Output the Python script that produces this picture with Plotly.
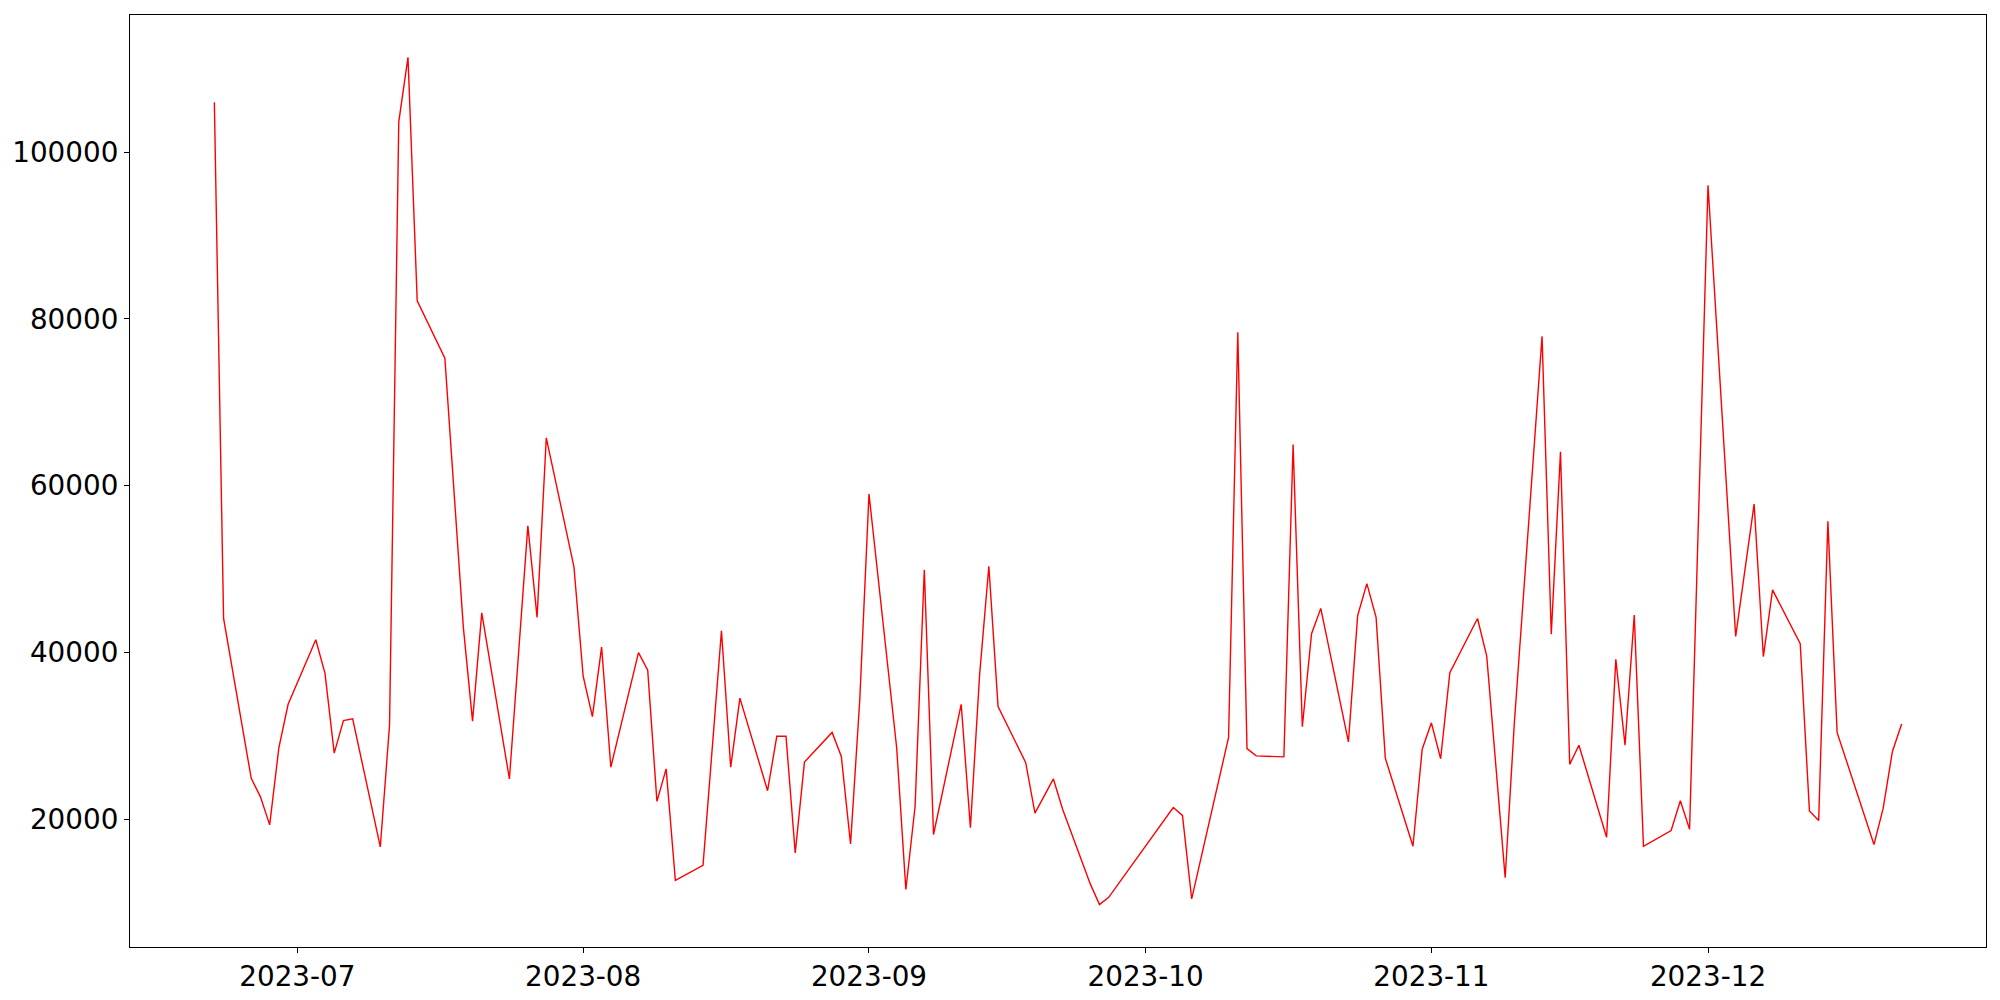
import pandas as pd
import plotly.graph_objects as go

dates = [
    "2023-06-22", "2023-06-23", "2023-06-26", "2023-06-27", "2023-06-28", "2023-06-29", "2023-06-30",
    "2023-07-03", "2023-07-04", "2023-07-05", "2023-07-06", "2023-07-07",
    "2023-07-10", "2023-07-11", "2023-07-12", "2023-07-13", "2023-07-14",
    "2023-07-17", "2023-07-19", "2023-07-20", "2023-07-21",
    "2023-07-24", "2023-07-26", "2023-07-27", "2023-07-28",
    "2023-07-31", "2023-08-01", "2023-08-02", "2023-08-03", "2023-08-04",
    "2023-08-07", "2023-08-08", "2023-08-09", "2023-08-10", "2023-08-11",
    "2023-08-14", "2023-08-16", "2023-08-17", "2023-08-18",
    "2023-08-21", "2023-08-22", "2023-08-23", "2023-08-24", "2023-08-25",
    "2023-08-28", "2023-08-29", "2023-08-30", "2023-08-31", "2023-09-01",
    "2023-09-04", "2023-09-05", "2023-09-06", "2023-09-07", "2023-09-08",
    "2023-09-11", "2023-09-12", "2023-09-13", "2023-09-14", "2023-09-15",
    "2023-09-18", "2023-09-19", "2023-09-21", "2023-09-22",
    "2023-09-25", "2023-09-26", "2023-09-27",
    "2023-10-04", "2023-10-05", "2023-10-06",
    "2023-10-10", "2023-10-11", "2023-10-12", "2023-10-13",
    "2023-10-16", "2023-10-17", "2023-10-18", "2023-10-19", "2023-10-20",
    "2023-10-23", "2023-10-24", "2023-10-25", "2023-10-26", "2023-10-27",
    "2023-10-30", "2023-10-31", "2023-11-01", "2023-11-02", "2023-11-03",
    "2023-11-06", "2023-11-07", "2023-11-09", "2023-11-10",
    "2023-11-13", "2023-11-14", "2023-11-15", "2023-11-16", "2023-11-17",
    "2023-11-20", "2023-11-21", "2023-11-22", "2023-11-23", "2023-11-24",
    "2023-11-27", "2023-11-28", "2023-11-29", "2023-12-01",
    "2023-12-04", "2023-12-06", "2023-12-07", "2023-12-08",
    "2023-12-11", "2023-12-12", "2023-12-13", "2023-12-14", "2023-12-15",
    "2023-12-19", "2023-12-20", "2023-12-21", "2023-12-22",
]

values = [
    105980, 44090, 24920, 22700, 19340, 28620, 33800,
    41530, 37500, 27950, 31850, 32050,
    16710, 31310, 103620, 111360, 82170,
    75300, 43080, 31780, 44760,
    24850, 55190, 44220, 65750,
    50280, 37160, 32320, 40660, 26260,
    39990, 37900, 22160, 26060, 12680,
    14490, 42610, 26260, 34540,
    23440, 29960, 29960, 15970, 26870,
    30430, 27540, 17050, 34340, 59020,
    28620, 11600, 21550, 49940, 18190,
    33800, 19000, 37360, 50350, 33530,
    26800, 20750, 24850, 21220,
    12270, 9780, 10660,
    21420, 20480, 10460,
    29830, 78400, 28480, 27610,
    27500, 64940, 31110, 42270, 45300,
    29290, 44430, 48260, 44220, 27340,
    16780, 28420, 31580, 27270, 37600,
    44090, 39580, 13010, 31650,
    77930, 42210, 64070, 26600, 28890,
    17860, 39180, 28890, 44490, 16780,
    18660, 22230, 18800, 96020,
    41940, 57810, 39520, 47520,
    41060, 21020, 19870, 55730, 30430,
    16980, 21350, 28150, 31440,
]

y_ticks = [20000, 40000, 60000, 80000, 100000]

x = pd.to_datetime(dates)
fig = go.Figure()
fig.add_trace(go.Scatter(x=x, y=values, mode="lines",
                         line=dict(color="red", width=1.4), showlegend=False))

# matplotlib-like 5% margins
xmin, xmax = x.min(), x.max()
xpad = (xmax - xmin) * 0.05
ymin, ymax = min(values), max(values)
ypad = (ymax - ymin) * 0.05

font = dict(family="DejaVu Sans", size=27.8, color="black")
# page body has an 8px margin, so the figure is placed at (8, 8)
fig.update_layout(
    width=1992, height=992,
    margin=dict(l=122, r=14, t=7, b=53),
    paper_bgcolor="white", plot_bgcolor="white",
    font=font,
)
fig.update_xaxes(
    range=[xmin - xpad, xmax + xpad],
    tickformat="%Y-%m", dtick="M1", tick0="2023-07-01",
    showgrid=False, zeroline=False,
    showline=True, linecolor="black", linewidth=1.1, mirror=True,
    ticks="outside", ticklen=5, tickwidth=1.1, tickcolor="black",
    tickfont=font, automargin=False,
)
fig.update_yaxes(
    range=[ymin - ypad, ymax + ypad],
    tickvals=y_ticks, ticktext=[str(v) for v in y_ticks],
    showgrid=False, zeroline=False,
    showline=True, linecolor="black", linewidth=1.1, mirror=True,
    ticks="outside", ticklen=5, tickwidth=1.1, tickcolor="black",
    tickfont=font, automargin=False,
)
fig.write_html("out.html")
